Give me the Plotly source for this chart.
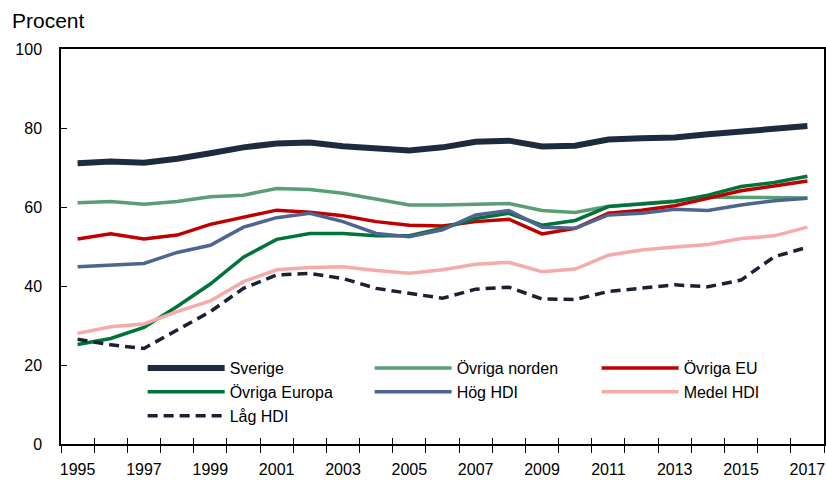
import plotly.graph_objects as go

years = list(range(1995, 2018))

sverige = [71.1, 71.5, 71.2, 72.2, 73.6, 75.1, 76.1, 76.3, 75.4, 74.7, 74.3, 75.1,
           76.5, 76.8, 75.3, 75.5, 77.1, 77.4, 77.6, 78.4, 79.1, 79.7, 80.5]
ovriga_norden = [61.1, 61.4, 60.7, 61.4, 62.6, 63.0, 64.7, 64.4, 63.5, 61.9, 60.5, 60.5,
                 60.8, 60.9, 59.1, 58.6, 60.2, 60.8, 61.5, 62.5, 62.4, 62.3, 62.3]
ovriga_eu = [51.9, 53.2, 51.9, 52.9, 55.6, 57.5, 59.2, 58.7, 57.8, 56.3, 55.4, 55.2,
             56.3, 56.9, 53.2, 54.6, 58.4, 59.2, 60.3, 62.2, 64.1, 65.3, 66.6]
ovriga_europa = [25.2, 26.7, 29.5, 34.8, 40.5, 47.3, 51.8, 53.3, 53.3, 52.7, 52.7, 54.6,
                 57.1, 58.4, 55.4, 56.6, 60.1, 60.8, 61.4, 63.0, 65.2, 66.2, 67.8]
hog_hdi = [44.9, 45.2, 45.7, 48.5, 50.3, 54.9, 57.3, 58.4, 56.3, 53.3, 52.5, 54.2,
           58.0, 59.1, 54.9, 54.6, 58.0, 58.4, 59.4, 59.1, 60.5, 61.6, 62.2]
medel_hdi = [28.0, 29.7, 30.4, 33.5, 36.2, 41.1, 44.1, 44.7, 44.9, 43.9, 43.2, 44.1,
             45.5, 46.0, 43.6, 44.3, 47.8, 49.1, 49.9, 50.5, 52.0, 52.7, 54.9]
lag_hdi = [26.5, 25.1, 24.2, 28.9, 33.5, 39.4, 42.8, 43.2, 41.9, 39.4, 38.1, 36.9,
           39.2, 39.7, 36.7, 36.6, 38.6, 39.4, 40.3, 39.8, 41.5, 47.4, 49.8]

series = [
    ("Sverige", sverige, "#1e2a3d", 6, "solid"),
    ("Övriga norden", ovriga_norden, "#5a9e76", 3.5, "solid"),
    ("Övriga EU", ovriga_eu, "#c00000", 3.5, "solid"),
    ("Övriga Europa", ovriga_europa, "#00733a", 3.5, "solid"),
    ("Hög HDI", hog_hdi, "#4d6590", 3.5, "solid"),
    ("Medel HDI", medel_hdi, "#f7aaaa", 3.5, "solid"),
    ("Låg HDI", lag_hdi, "#1a2232", 3.5, "10px,6px"),
]

tick_years = [y for y in years if y % 2 == 1]
boundaries = [y - 0.5 for y in years] + [years[-1] + 0.5]

FONT = "Liberation Sans, Arial, sans-serif"

fig = go.Figure()
for name, vals, color, w, dash in series:
    fig.add_trace(go.Scatter(x=years, y=vals, name=name, mode="lines",
                             line=dict(color=color, width=w, dash=dash)))

xr = [years[0] - 0.5, years[-1] + 0.5]
fig.update_layout(
    width=826, height=480,
    margin=dict(l=61, r=2, t=49, b=36, autoexpand=False),
    paper_bgcolor="white", plot_bgcolor="white",
    font=dict(family=FONT, size=16, color="black"),
    showlegend=True,
    legend=dict(orientation="h", x=0.107, y=0.235, xanchor="left", yanchor="top",
                entrywidth=135, entrywidthmode="pixels",
                font=dict(family=FONT, size=16, color="black"),
                bgcolor="rgba(0,0,0,0)", itemwidth=77, tracegroupgap=0),
    xaxis=dict(range=xr, tickmode="array", tickvals=tick_years,
               ticktext=[str(y) for y in tick_years], ticks="",
               showline=True, linecolor="black", linewidth=1.5, mirror=True,
               showgrid=False, zeroline=False, ticklabelstandoff=10,
               minor=dict(tickmode="array", tickvals=boundaries, ticks="outside",
                          ticklen=7, tickcolor="black", tickwidth=1.2, showgrid=False)),
    xaxis2=dict(range=xr, overlaying="x", anchor="y", matches="x",
                tickmode="array", tickvals=boundaries, ticks="inside", ticklen=6,
                tickcolor="black", tickwidth=1.2, showticklabels=False,
                showline=False, showgrid=False, zeroline=False),
    yaxis=dict(range=[0, 100], tickmode="array", tickvals=[0, 20, 40, 60, 80, 100],
               ticks="inside", ticklen=6, tickcolor="black", tickwidth=1.2,
               showline=True, linecolor="black", linewidth=1.5, mirror=True,
               showgrid=False, zeroline=False, ticklabelstandoff=14),
    annotations=[dict(text="Procent", xref="paper", yref="paper", x=-0.067, y=1.073,
                      xanchor="left", yanchor="middle", showarrow=False,
                      font=dict(family=FONT, size=21))],
)
# invisible helper trace so the inner-tick overlay axis is drawn
fig.add_trace(go.Scatter(x=[years[0]], y=[None], xaxis="x2", showlegend=False,
                         hoverinfo="skip"))

fig.write_html("out.html", config={"displayModeBar": False},
               post_script="document.body.style.margin='0px';")
